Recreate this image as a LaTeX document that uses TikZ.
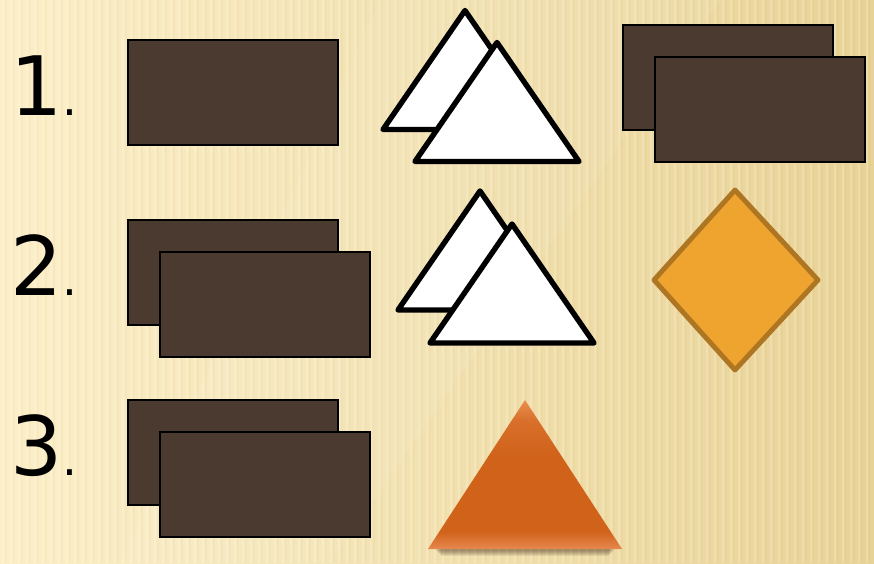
\documentclass[tikz,border=0pt]{standalone}
\usepackage{fontspec}
\setmainfont{DejaVu Sans}

\definecolor{paper}{HTML}{FCEFC8}
\definecolor{paperdark}{HTML}{E8D396}
\definecolor{boxbrown}{HTML}{4B3A2F}
\definecolor{diafill}{HTML}{EFA42F}
\definecolor{diaedge}{HTML}{AE7622}
\definecolor{orngtop}{HTML}{EA8E50}
\definecolor{orngmid}{HTML}{D0621A}
\definecolor{orngbot}{HTML}{E6884F}

\pgfdeclareverticalshading{orangetri}{100bp}{color(0bp)=(orngbot); color(25bp)=(orngbot); color(31bp)=(orngmid); color(56bp)=(orngmid); color(68bp)=(orngmid!70!orngtop); color(75bp)=(orngtop); color(100bp)=(orngtop)}

\tikzset{
	brownbox/.style={draw=black, line width=1.7pt, fill=boxbrown, minimum width=63mm, minimum height=31.5mm, anchor=north west, inner sep=0pt, outer sep=0pt},
	whitetri/.style={draw=black, fill=white, line width=4.6pt, line join=round},
	numlabel/.style={anchor=base west, inner sep=0pt, font=\fontsize{70}{70}\selectfont}
}

\begin{document}
\begin{tikzpicture}[x=0.3mm, y=-0.3mm]
	\useasboundingbox (0,0) rectangle (874,563);
	% background
	\shade[shading=axis, shading angle=60, left color=paper, right color=paperdark] (0,0) rectangle (874,563);
	\foreach \i in {0,...,108} {\fill[white, opacity=0.2] (8*\i+2,0) rectangle (8*\i+4,563); \fill[brown, opacity=0.04] (8*\i+5,0) rectangle (8*\i+7,563);}
	\fill[white, opacity=0.07] (380,0) -- (720,0) -- (330,563) -- (120,563) -- cycle;
	% numbers
	\foreach \n/\y in {1/115, 2/295, 3/475} {\node[numlabel] (num\n) at (10,\y) {\n{\fontsize{40}{40}\selectfont.}};}
	% rectangles
	\node[brownbox] (box1) at (128,40) {};
	\foreach \r/\x/\y in {a/623/25, b/128/220, c/128/400} {
		\node[brownbox] (back\r) at (\x,\y) {};
		\node[brownbox] (front\r) at (\x+32,\y+32) {};
	}
	% white triangles
	\foreach \x/\y in {465/10.5, 497/42.5, 480/191, 512/224} {\draw[whitetri] (\x,\y) -- (\x+82,\y+119) -- (\x-82,\y+119) -- cycle;}
	% diamond
	\draw[fill=diafill, draw=diaedge, line width=4.2pt, line join=round] (735,190) -- (818,280) -- (735,370) -- (654,280) -- cycle;
	% orange triangle with shadow
	\foreach \d in {0,...,5} {\fill[black!70!brown, opacity=0.09] (436+\d,549) rectangle (614-\d,551+\d);}
	\shade[shading=orangetri] (525,400) -- (622,549) -- (428,549) -- cycle;
\end{tikzpicture}
\end{document}
